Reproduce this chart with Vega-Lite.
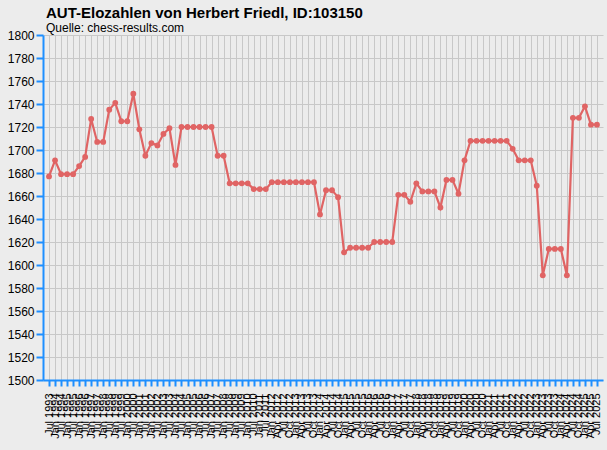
{
  "$schema": "https://vega.github.io/schema/vega-lite/v6.json",
  "autosize": {"type": "none"},
  "padding": {"left": 43, "top": 35, "right": 4, "bottom": 70},
  "width": 560,
  "height": 345,
  "background": "#ececec",
  "title": {
    "text": "AUT-Elozahlen von Herbert Friedl, ID:103150",
    "subtitle": "Quelle: chess-results.com",
    "anchor": "start",
    "frame": "group",
    "dx": 3,
    "offset": -5,
    "font": "Liberation Sans",
    "fontSize": 15,
    "fontWeight": "bold",
    "color": "#000000",
    "subtitleFont": "Liberation Sans",
    "subtitleFontSize": 12,
    "subtitleColor": "#000000",
    "subtitlePadding": 2
  },
  "data": {
    "values": [
      {"d": "Jul 1993", "elo": 1677},
      {"d": "Jan 1994", "elo": 1691},
      {"d": "Jul 1994", "elo": 1679},
      {"d": "Jan 1995", "elo": 1679},
      {"d": "Jul 1995", "elo": 1679},
      {"d": "Jan 1996", "elo": 1686},
      {"d": "Jul 1996", "elo": 1694},
      {"d": "Jan 1997", "elo": 1727},
      {"d": "Jul 1997", "elo": 1707},
      {"d": "Jan 1998", "elo": 1707},
      {"d": "Jul 1998", "elo": 1735},
      {"d": "Jan 1999", "elo": 1741},
      {"d": "Jul 1999", "elo": 1725},
      {"d": "Jan 2000", "elo": 1725},
      {"d": "Jul 2000", "elo": 1749},
      {"d": "Jan 2001", "elo": 1718},
      {"d": "Jul 2001", "elo": 1695},
      {"d": "Jan 2002", "elo": 1706},
      {"d": "Jul 2002", "elo": 1704},
      {"d": "Jan 2003", "elo": 1714},
      {"d": "Jul 2003", "elo": 1719},
      {"d": "Jan 2004", "elo": 1687},
      {"d": "Jul 2004", "elo": 1720},
      {"d": "Jan 2005", "elo": 1720},
      {"d": "Jul 2005", "elo": 1720},
      {"d": "Jan 2006", "elo": 1720},
      {"d": "Jul 2006", "elo": 1720},
      {"d": "Jan 2007", "elo": 1720},
      {"d": "Jul 2007", "elo": 1695},
      {"d": "Jan 2008", "elo": 1695},
      {"d": "Jul 2008", "elo": 1671},
      {"d": "Jan 2009", "elo": 1671},
      {"d": "Jul 2009", "elo": 1671},
      {"d": "Jan 2010", "elo": 1671},
      {"d": "Jul 2010", "elo": 1666},
      {"d": "Jan 2011", "elo": 1666},
      {"d": "Jul 2011", "elo": 1666},
      {"d": "Jan 2012", "elo": 1672},
      {"d": "Apr 2012", "elo": 1672},
      {"d": "Jul 2012", "elo": 1672},
      {"d": "Oct 2012", "elo": 1672},
      {"d": "Jan 2013", "elo": 1672},
      {"d": "Apr 2013", "elo": 1672},
      {"d": "Jul 2013", "elo": 1672},
      {"d": "Oct 2013", "elo": 1672},
      {"d": "Jan 2014", "elo": 1644},
      {"d": "Apr 2014", "elo": 1665},
      {"d": "Jul 2014", "elo": 1665},
      {"d": "Oct 2014", "elo": 1659},
      {"d": "Jan 2015", "elo": 1611},
      {"d": "Apr 2015", "elo": 1615},
      {"d": "Jul 2015", "elo": 1615},
      {"d": "Oct 2015", "elo": 1615},
      {"d": "Jan 2016", "elo": 1615},
      {"d": "Apr 2016", "elo": 1620},
      {"d": "Jul 2016", "elo": 1620},
      {"d": "Oct 2016", "elo": 1620},
      {"d": "Jan 2017", "elo": 1620},
      {"d": "Apr 2017", "elo": 1661},
      {"d": "Jul 2017", "elo": 1661},
      {"d": "Oct 2017", "elo": 1655},
      {"d": "Jan 2018", "elo": 1671},
      {"d": "Apr 2018", "elo": 1664},
      {"d": "Jul 2018", "elo": 1664},
      {"d": "Oct 2018", "elo": 1664},
      {"d": "Jan 2019", "elo": 1650},
      {"d": "Apr 2019", "elo": 1674},
      {"d": "Jul 2019", "elo": 1674},
      {"d": "Oct 2019", "elo": 1662},
      {"d": "Jan 2020", "elo": 1691},
      {"d": "Apr 2020", "elo": 1708},
      {"d": "Jul 2020", "elo": 1708},
      {"d": "Oct 2020", "elo": 1708},
      {"d": "Jan 2021", "elo": 1708},
      {"d": "Apr 2021", "elo": 1708},
      {"d": "Jul 2021", "elo": 1708},
      {"d": "Oct 2021", "elo": 1708},
      {"d": "Jan 2022", "elo": 1701},
      {"d": "Apr 2022", "elo": 1691},
      {"d": "Jul 2022", "elo": 1691},
      {"d": "Oct 2022", "elo": 1691},
      {"d": "Jan 2023", "elo": 1669},
      {"d": "Apr 2023", "elo": 1591},
      {"d": "Jul 2023", "elo": 1614},
      {"d": "Oct 2023", "elo": 1614},
      {"d": "Jan 2024", "elo": 1614},
      {"d": "Apr 2024", "elo": 1591},
      {"d": "Jul 2024", "elo": 1728},
      {"d": "Oct 2024", "elo": 1728},
      {"d": "Jan 2025", "elo": 1738},
      {"d": "Apr 2025", "elo": 1722},
      {"d": "Jul 2025", "elo": 1722}
    ]
  },
  "mark": {
    "type": "line",
    "color": "#e06464",
    "strokeWidth": 2.2,
    "point": {"filled": true, "size": 34, "color": "#e06464"}
  },
  "encoding": {
    "x": {
      "field": "d",
      "type": "ordinal",
      "sort": null,
      "title": null,
      "scale": {"type": "point", "padding": 1.05},
      "axis": {
        "labelAngle": -90,
        "labelFontSize": 11,
        "labelPadding": 7,
        "labelOverlap": false,
        "tickSize": 6
      }
    },
    "y": {
      "field": "elo",
      "type": "quantitative",
      "title": null,
      "scale": {"domain": [1500, 1800], "nice": false, "zero": false},
      "axis": {
        "values": [1500, 1520, 1540, 1560, 1580, 1600, 1620, 1640, 1660, 1680, 1700, 1720, 1740, 1760, 1780, 1800],
        "format": "d",
        "labelFontSize": 12,
        "tickSize": 7,
        "labelPadding": 2
      }
    }
  },
  "config": {
    "view": {"stroke": null},
    "font": "Liberation Sans",
    "axis": {
      "domainColor": "#1e8fff",
      "domainWidth": 2,
      "tickColor": "#1e8fff",
      "tickWidth": 2,
      "labelColor": "#000000",
      "labelFont": "Liberation Sans",
      "grid": true,
      "gridColor": "#c8c8c8",
      "gridWidth": 1
    }
  }
}
